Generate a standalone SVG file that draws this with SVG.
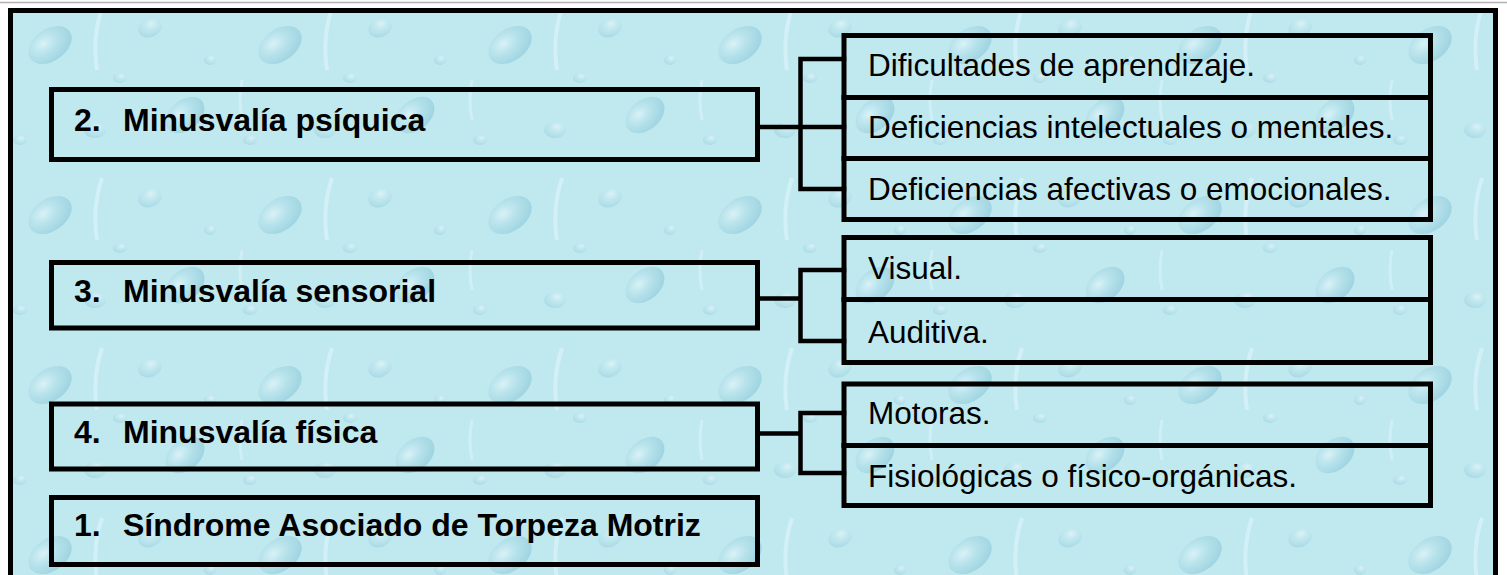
<svg xmlns="http://www.w3.org/2000/svg" width="1507" height="575" viewBox="0 0 1507 575">
<style>
.box{fill:none;stroke:#000;stroke-width:5}
.con{fill:none;stroke:#000;stroke-width:4.5;stroke-linejoin:miter;stroke-linecap:square}
.h{font-family:"Liberation Sans",Arial,sans-serif;font-weight:bold;font-size:32px;fill:#000}
.t{font-family:"Liberation Sans",Arial,sans-serif;font-size:31.5px;fill:#000}
</style>
<defs>
<radialGradient id="drop" cx="0.4" cy="0.35" r="0.7">
<stop offset="0" stop-color="#eefbfd" stop-opacity="0.55"/>
<stop offset="0.5" stop-color="#a3d7e3" stop-opacity="0.45"/>
<stop offset="1" stop-color="#79bdd0" stop-opacity="0.5"/>
</radialGradient>
<radialGradient id="drop2" cx="0.6" cy="0.3" r="0.7">
<stop offset="0" stop-color="#ffffff" stop-opacity="0.45"/>
<stop offset="0.55" stop-color="#b2e0ea" stop-opacity="0.3"/>
<stop offset="1" stop-color="#8ac6d7" stop-opacity="0.4"/>
</radialGradient>
<pattern id="water" width="230" height="170" patternUnits="userSpaceOnUse">
<rect width="230" height="170" fill="#c0e8ef"/>
<ellipse cx="50" cy="45" rx="24" ry="16" fill="url(#drop)" transform="rotate(-35 50 45)"/>
<ellipse cx="150" cy="28" rx="12" ry="9" fill="url(#drop2)" transform="rotate(-20 150 28)"/>
<ellipse cx="185" cy="115" rx="22" ry="15" fill="url(#drop)" transform="rotate(-40 185 115)"/>
<ellipse cx="95" cy="130" rx="11" ry="8" fill="url(#drop2)"/>
<ellipse cx="20" cy="140" rx="7" ry="5" fill="url(#drop2)"/>
<ellipse cx="120" cy="78" rx="7" ry="5" fill="url(#drop2)"/>
<ellipse cx="210" cy="60" rx="6" ry="5" fill="url(#drop2)"/>
<path d="M102 8 q-10 30 -5 62" stroke="#e9fafd" stroke-width="4" fill="none" opacity="0.45"/>
<path d="M12 80 q-4 20 0 40" stroke="#e9fafd" stroke-width="3" fill="none" opacity="0.35"/>
</pattern>
</defs>
<rect width="1507" height="575" fill="#ffffff"/>
<line x1="0" y1="2.5" x2="1507" y2="2.5" stroke="#b0b0b0" stroke-width="1.5"/>
<rect id="frame" x="10.5" y="10.5" width="1485" height="580" fill="url(#water)" stroke="#000" stroke-width="5"/>

<g id="connectors">
<path class="con" d="M758 127 H844 M800.5 59 V189 M800.5 59 H844 M800.5 189 H844"/>
<path class="con" d="M758 298.5 H800.5 M800.5 270 V341 M800.5 270 H844 M800.5 341 H844"/>
<path class="con" d="M758 433.5 H800.5 M800.5 413 V473 M800.5 413 H844 M800.5 473 H844"/>
</g>

<g id="n2">
<rect class="box" x="51.5" y="89.5" width="706" height="70"/>
<text class="h" y="131"><tspan x="74">2.</tspan><tspan x="123">Minusvalía psíquica</tspan></text>
</g>
<g id="n3">
<rect class="box" x="51.5" y="262.5" width="706" height="65.5"/>
<text class="h" y="302"><tspan x="74">3.</tspan><tspan x="123">Minusvalía sensorial</tspan></text>
</g>
<g id="n4">
<rect class="box" x="51.5" y="404" width="706" height="65"/>
<text class="h" y="443"><tspan x="74">4.</tspan><tspan x="123">Minusvalía física</tspan></text>
</g>
<g id="n1">
<rect class="box" x="51.5" y="497.5" width="706" height="67"/>
<text class="h" y="536"><tspan x="74">1.</tspan><tspan x="123">Síndrome Asociado de Torpeza Motriz</tspan></text>
</g>

<g id="a1">
<rect class="box" x="844" y="35.5" width="586.5" height="62"/>
<text class="t" x="868" y="76">Dificultades de aprendizaje.</text>
</g>
<g id="a2">
<rect class="box" x="844" y="97.5" width="586.5" height="61"/>
<text class="t" x="868" y="138">Deficiencias intelectuales o mentales.</text>
</g>
<g id="a3">
<rect class="box" x="844" y="158.5" width="586.5" height="61"/>
<text class="t" x="868" y="199.5">Deficiencias afectivas o emocionales.</text>
</g>
<g id="b1">
<rect class="box" x="844" y="237.5" width="586.5" height="62"/>
<text class="t" x="868" y="279">Visual.</text>
</g>
<g id="b2">
<rect class="box" x="844" y="299.5" width="586.5" height="63"/>
<text class="t" x="868" y="343">Auditiva.</text>
</g>
<g id="c1">
<rect class="box" x="844" y="384" width="586.5" height="61.5"/>
<text class="t" x="868" y="424">Motoras.</text>
</g>
<g id="c2">
<rect class="box" x="844" y="445.5" width="586.5" height="60"/>
<text class="t" x="868" y="487">Fisiológicas o físico-orgánicas.</text>
</g>
</svg>
